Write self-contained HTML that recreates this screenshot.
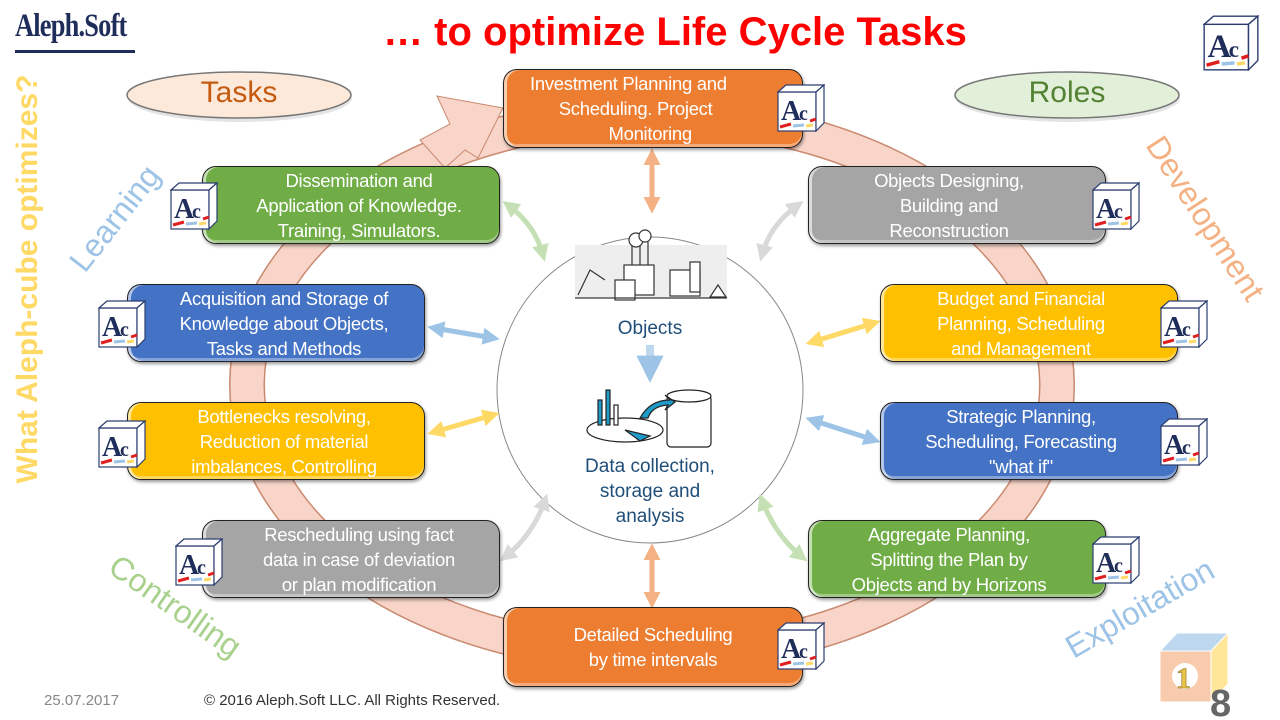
<!DOCTYPE html>
<html><head><meta charset="utf-8"><style>
body{margin:0;width:1280px;height:720px;position:relative;overflow:hidden;background:#fff;font-family:"Liberation Sans",sans-serif}
.a{position:absolute}
.box{position:absolute;border:1.5px solid #222;border-radius:14px;color:#fff;font-size:18.5px;letter-spacing:-0.3px;line-height:25px;text-align:center;display:flex;align-items:center;justify-content:center;box-sizing:border-box;padding:0 4px;white-space:nowrap;box-shadow:inset 3px 0 0 rgba(255,255,255,.6),inset 0 -3px 0 rgba(255,255,255,.35),1px 2px 3px rgba(0,0,0,.4)}
.or{background:#ED7D31}.gr{background:#A5A5A5}.ye{background:#FFC000}.bl{background:#4472C4}.gn{background:#70AD47}
.ic{position:absolute;width:48px;height:48px}
.rot{position:absolute;white-space:nowrap;font-size:34px;transform-origin:center}
</style></head><body>
<svg class="a" style="left:0;top:0" width="1280" height="720">
<defs>
<symbol id="ac" viewBox="0 0 48 48">
<rect x="1" y="8" width="38" height="39" fill="#fff" stroke="#2c3e70" stroke-width="1.2"/>
<polygon points="1,8 9,1 47,1 39,8" fill="#fff" stroke="#2c3e70" stroke-width="1.2"/>
<polygon points="39,8 47,1 47,39 39,47" fill="#fff" stroke="#2c3e70" stroke-width="1.2"/>
<text x="4" y="36" font-family="Liberation Serif" font-weight="bold" font-size="28" fill="#1f2d5a">A</text>
<text x="22" y="36" font-family="Liberation Serif" font-weight="bold" font-size="20" fill="#1f2d5a">c</text>
<line x1="3" y1="43" x2="14" y2="40" stroke="#e02020" stroke-width="3"/>
<line x1="16" y1="42" x2="27" y2="41" stroke="#9dc3e6" stroke-width="3"/>
<line x1="29" y1="42" x2="36" y2="41" stroke="#ffd966" stroke-width="3"/>
<line x1="33" y1="37" x2="39" y2="35" stroke="#e02020" stroke-width="3"/>
</symbol>
<marker id="mo" viewBox="0 0 10 10" refX="6" refY="5" markerWidth="3.4" markerHeight="3.4" orient="auto-start-reverse"><path d="M0,0L10,5L0,10z" fill="#F4B183"/></marker>
<marker id="mg" viewBox="0 0 10 10" refX="6" refY="5" markerWidth="3.4" markerHeight="3.4" orient="auto-start-reverse"><path d="M0,0L10,5L0,10z" fill="#C5E0B4"/></marker>
<marker id="mb" viewBox="0 0 10 10" refX="6" refY="5" markerWidth="3.4" markerHeight="3.4" orient="auto-start-reverse"><path d="M0,0L10,5L0,10z" fill="#9DC3E6"/></marker>
<marker id="my" viewBox="0 0 10 10" refX="6" refY="5" markerWidth="3.4" markerHeight="3.4" orient="auto-start-reverse"><path d="M0,0L10,5L0,10z" fill="#FFD966"/></marker>
<marker id="mr" viewBox="0 0 10 10" refX="6" refY="5" markerWidth="3.4" markerHeight="3.4" orient="auto-start-reverse"><path d="M0,0L10,5L0,10z" fill="#D9D9D9"/></marker>
</defs>
<ellipse cx="652" cy="385" rx="405" ry="270" fill="none" stroke="#c98a70" stroke-width="36"/>
<ellipse cx="652" cy="385" rx="405" ry="270" fill="none" stroke="#F8D5C8" stroke-width="33"/>
<polygon points="503,108 437,96 450,124 420,140 445,168 465,150 478,158" fill="#F8D5C8" stroke="#c98a70" stroke-width="1"/>
<circle cx="650" cy="390" r="153" fill="#fff" stroke="#888" stroke-width="1"/>
<g fill="none" stroke-width="5">
<line x1="652" y1="155" x2="652" y2="207" stroke="#F4B183" marker-start="url(#mo)" marker-end="url(#mo)"/>
<line x1="652" y1="550" x2="652" y2="602" stroke="#F4B183" marker-start="url(#mo)" marker-end="url(#mo)"/>
<path d="M508,205 Q535,225 543,255" stroke="#C5E0B4" marker-start="url(#mg)" marker-end="url(#mg)"/>
<line x1="434" y1="328" x2="493" y2="338" stroke="#9DC3E6" marker-start="url(#mb)" marker-end="url(#mb)"/>
<line x1="434" y1="432" x2="493" y2="415" stroke="#FFD966" marker-start="url(#my)" marker-end="url(#my)"/>
<path d="M505,557 Q533,535 545,500" stroke="#D9D9D9" marker-start="url(#mr)" marker-end="url(#mr)"/>
<path d="M798,205 Q770,225 762,255" stroke="#D9D9D9" marker-start="url(#mr)" marker-end="url(#mr)"/>
<line x1="874" y1="323" x2="812" y2="342" stroke="#FFD966" marker-start="url(#my)" marker-end="url(#my)"/>
<line x1="874" y1="440" x2="812" y2="420" stroke="#9DC3E6" marker-start="url(#mb)" marker-end="url(#mb)"/>
<path d="M802,557 Q775,535 762,500" stroke="#C5E0B4" marker-start="url(#mg)" marker-end="url(#mg)"/>
<line x1="650" y1="345" x2="650" y2="372" stroke="#BDD7EE" stroke-width="8" marker-end="url(#mb)"/>
</g>
<g stroke="#333" stroke-width="1.2" fill="#fff">
<rect x="575" y="245" width="152" height="52" fill="#eee" stroke="none"/>
<rect x="624" y="265" width="30" height="30"/><rect x="615" y="280" width="20" height="20"/>
<line x1="632" y1="240" x2="632" y2="265"/><line x1="640" y1="240" x2="640" y2="265"/><line x1="648" y1="240" x2="648" y2="265"/>
<circle cx="636" cy="240" r="7"/><circle cx="645" cy="236" r="6"/>
<rect x="670" y="270" width="30" height="26"/><rect x="690" y="262" width="10" height="30"/>
<path d="M578,295 L590,270 L605,280" fill="none"/><line x1="575" y1="298" x2="727" y2="298"/>
<path d="M710,297 L718,285 L726,297z"/>
</g>
<g stroke="#222" stroke-width="1.2">
<ellipse cx="625" cy="430" rx="38" ry="12" fill="#fff"/>
<rect x="598" y="400" width="4" height="25" fill="#1f9bc9"/><rect x="606" y="390" width="4" height="35" fill="#1f9bc9"/><rect x="614" y="405" width="4" height="20" fill="#fff"/>
<rect x="667" y="395" width="44" height="52" fill="#fff" rx="4"/>
<ellipse cx="689" cy="396" rx="22" ry="6" fill="#fff"/>
<path d="M640,418 Q650,400 670,400 L665,395 L675,402 L665,410 L668,405 Q652,406 648,418z" fill="#1f9bc9"/>
<path d="M625,430 L650,436 L640,441z" fill="#1f9bc9"/>
</g>
<g stroke="#fff" stroke-width="1">
<polygon points="1160,651 1177,633 1228,633 1211,651" fill="#BDD7EE"/>
<polygon points="1211,651 1228,633 1228,684 1211,702" fill="#FFE699"/>
<rect x="1160" y="651" width="51" height="51" fill="#F8CBAD"/>
</g>
<circle cx="1185" cy="676" r="13" fill="#fff"/>
<text x="1176" y="688" font-family="Liberation Serif" font-weight="bold" font-size="30" fill="#e8c54a" stroke="#8a6d1a" stroke-width=".6">1</text>
<text x="1210" y="716" font-family="Liberation Sans" font-weight="bold" font-size="38" fill="#666">8</text>
<use href="#ac" x="1203" y="15" width="56" height="56"/>
<ellipse cx="240" cy="98" rx="112" ry="24" fill="#bbb" opacity=".4"/>
<ellipse cx="239" cy="95" rx="112" ry="23" fill="#FDE9D9" stroke="#777" stroke-width="1.5"/>
<ellipse cx="1068" cy="98" rx="112" ry="24" fill="#bbb" opacity=".4"/>
<ellipse cx="1067" cy="95" rx="112" ry="23" fill="#E2F0D9" stroke="#777" stroke-width="1.5"/>
</svg>

<div class="a" style="left:15px;top:8px;font-family:'Liberation Serif',serif;font-size:33px;font-weight:bold;color:#1f2d5a;letter-spacing:-1px;transform:scaleX(.8);transform-origin:left">Aleph.Soft</div>
<div class="a" style="left:15px;top:50px;width:120px;height:3px;background:#1f2d5a"></div>
<div class="a" style="left:0;width:1350px;top:10px;text-align:center;font-size:40px;font-weight:bold;color:#FF0000">… to optimize Life Cycle Tasks</div>
<div class="a" style="left:127px;top:76px;width:224px;text-align:center;font-size:30px;color:#C55A11">Tasks</div>
<div class="a" style="left:955px;top:76px;width:224px;text-align:center;font-size:30px;color:#548235">Roles</div>

<div class="rot" style="left:-192px;top:262px;width:440px;text-align:center;transform:rotate(-90deg);color:#FFD966;font-weight:bold;font-size:30px">What Aleph-cube optimizes?</div>
<div class="rot" style="left:50px;top:200px;width:130px;text-align:center;transform:rotate(-52deg);color:#9DC3E6;font-size:32px">Learning</div>
<div class="rot" style="left:1105px;top:200px;width:200px;text-align:center;transform:rotate(57deg);color:#F4B183;font-size:32px">Development</div>
<div class="rot" style="left:85px;top:588px;width:180px;text-align:center;transform:rotate(35deg);color:#A9D18E;font-size:32px">Controlling</div>
<div class="rot" style="left:1045px;top:590px;width:190px;text-align:center;transform:rotate(-30deg);color:#9DC3E6;font-size:32px">Exploitation</div>

<div class="box or" style="left:503px;top:69px;width:300px;height:79px;padding-right:0px;justify-content:flex-start;padding-left:26px">Investment Planning and<br>&nbsp;&nbsp;&nbsp;Scheduling. Project<br>&nbsp;&nbsp;&nbsp;&nbsp;&nbsp;&nbsp;&nbsp;&nbsp;&nbsp;Monitoring</div>
<div class="box gr" style="left:808px;top:166px;width:298px;height:78px;padding-right:20px">Objects Designing,<br>Building and<br>Reconstruction</div>
<div class="box ye" style="left:880px;top:284px;width:298px;height:78px;padding-right:20px">Budget and Financial<br>Planning, Scheduling<br>and Management</div>
<div class="box bl" style="left:880px;top:402px;width:298px;height:78px;padding-right:20px">Strategic Planning,<br>Scheduling, Forecasting<br>"what if"</div>
<div class="box gn" style="left:808px;top:520px;width:298px;height:78px;padding-right:20px">Aggregate Planning,<br>Splitting the Plan by<br>Objects and by Horizons</div>
<div class="box or" style="left:503px;top:607px;width:300px;height:80px;padding-right:4px">Detailed Scheduling<br>by time intervals</div>
<div class="box gr" style="left:202px;top:520px;width:298px;height:78px;padding-left:20px">Rescheduling using fact<br>data in case of deviation<br>or plan modification</div>
<div class="box ye" style="left:127px;top:402px;width:298px;height:78px;padding-left:20px">Bottlenecks resolving,<br>Reduction of material<br>imbalances, Controlling</div>
<div class="box bl" style="left:127px;top:284px;width:298px;height:78px;padding-left:20px">Acquisition and Storage of<br>Knowledge about Objects,<br>Tasks and Methods</div>
<div class="box gn" style="left:202px;top:166px;width:298px;height:78px;padding-left:20px">Dissemination and<br>Application of Knowledge.<br>Training, Simulators.</div>

<svg class="ic" style="left:777px;top:84px"><use href="#ac" width="48" height="48"/></svg>
<svg class="ic" style="left:1092px;top:182px"><use href="#ac" width="48" height="48"/></svg>
<svg class="ic" style="left:1160px;top:300px"><use href="#ac" width="48" height="48"/></svg>
<svg class="ic" style="left:1160px;top:418px"><use href="#ac" width="48" height="48"/></svg>
<svg class="ic" style="left:1092px;top:536px"><use href="#ac" width="48" height="48"/></svg>
<svg class="ic" style="left:777px;top:622px"><use href="#ac" width="48" height="48"/></svg>
<svg class="ic" style="left:175px;top:538px"><use href="#ac" width="48" height="48"/></svg>
<svg class="ic" style="left:98px;top:420px"><use href="#ac" width="48" height="48"/></svg>
<svg class="ic" style="left:98px;top:300px"><use href="#ac" width="48" height="48"/></svg>
<svg class="ic" style="left:170px;top:182px"><use href="#ac" width="48" height="48"/></svg>

<div class="a" style="left:550px;top:318px;width:200px;text-align:center;font-size:19px;color:#1F4E79">Objects</div>
<div class="a" style="left:550px;top:454px;width:200px;text-align:center;font-size:19px;line-height:25px;color:#1F4E79">Data collection,<br>storage and<br>analysis</div>
<div class="a" style="left:44px;top:692px;font-size:15px;color:#888">25.07.2017</div>
<div class="a" style="left:204px;top:692px;font-size:15px;color:#333">© 2016 Aleph.Soft LLC. All Rights Reserved.</div>
</body></html>
